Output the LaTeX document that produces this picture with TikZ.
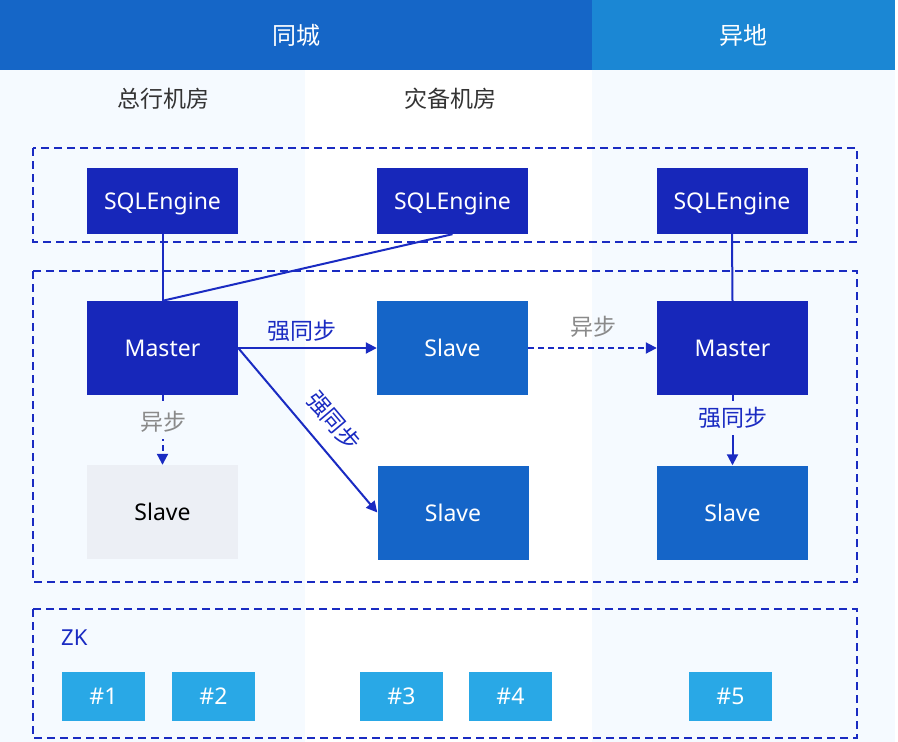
\documentclass[tikz,border=0pt]{standalone}
\usepackage{fontspec}
\setmainfont{Noto Sans}
\newfontfamily\cjk{Noto Sans CJK SC}
\usetikzlibrary{arrows.meta}
\definecolor{hdrA}{HTML}{1566C7}
\definecolor{hdrB}{HTML}{1B87D4}
\definecolor{colbg}{HTML}{F5FAFF}
\definecolor{navy}{HTML}{1727BA}
\definecolor{mblue}{HTML}{1565C8}
\definecolor{lgray}{HTML}{ECEFF5}
\definecolor{zkblue}{HTML}{29A8E6}
\definecolor{dline}{HTML}{1A2BC2}
\definecolor{gtext}{HTML}{8A8A8A}
\definecolor{dtext}{HTML}{333333}
\tikzset{
  box/.style={inner sep=0pt, minimum width=151pt, font=\fontsize{23}{26}\selectfont, text=white},
  engbox/.style={box, fill=navy, minimum height=66pt, text depth=0pt},
  mastbox/.style={box, fill=navy, minimum height=94pt},
  slavebox/.style={box, fill=mblue, minimum height=94pt},
  grayslave/.style={box, fill=lgray, minimum height=94pt, text=black},
  zkbox/.style={inner sep=0pt, minimum width=83pt, minimum height=49pt, fill=zkblue, text=white, font=\fontsize{23}{26}\selectfont},
  group/.style={draw=dline, line width=2pt, dash pattern=on 8pt off 5pt},
  conn/.style={draw=dline, line width=2pt},
  arr/.style={conn, -{Triangle[length=11pt,width=11pt]}},
  darr/.style={arr, dash pattern=on 6pt off 4pt},
  hdr/.style={font=\cjk\fontsize{24}{28}\selectfont, text=white},
  room/.style={font=\cjk\fontsize{23}{27}\selectfont, text=dtext},
  slbl/.style={font=\cjk\fontsize{23}{27}\selectfont, text=dline, inner sep=0pt},
  albl/.style={font=\cjk\fontsize{23}{27}\selectfont, text=gtext, inner sep=0pt},
}
\begin{document}
\begin{tikzpicture}[x=1pt,y=-1pt]
\useasboundingbox (0,0) rectangle (898,742);
% backgrounds
\fill[white] (0,0) rectangle (898,742);
\fill[colbg] (0,70) rectangle (305,742);
\fill[colbg] (592,70) rectangle (895,742);
\fill[hdrA] (0,0) rectangle (592,70);
\fill[hdrB] (592,0) rectangle (895,70);
\node[hdr] (hsame) at (296,35) {同城};
\node[hdr] (hdiff) at (743,35) {异地};
\node[room] (r1) at (163,99) {总行机房};
\node[room] (r2) at (450,99) {灾备机房};
% group frames
\draw[group] (33,148) rectangle (857,242);
\draw[group] (33,271) rectangle (857,582);
\draw[group] (33,609) rectangle (857,738);
% engines
\node[engbox] (e1) at (162.5,201) {SQLEngine};
\node[engbox] (e2) at (452.5,201) {SQLEngine};
\node[engbox] (e3) at (732,201) {SQLEngine};
% masters and slaves
\node[mastbox] (m1) at (162.5,348) {Master};
\node[slavebox] (s2) at (452.5,348) {Slave};
\node[mastbox] (m2) at (732.5,348) {Master};
\node[grayslave] (s1) at (162.5,512) {Slave};
\node[slavebox] (s3) at (453,512.5) {Slave};
\node[slavebox] (s4) at (732.5,512.5) {Slave};
% connectors
\draw[conn] (e1.south) -- (m1.north);
\draw[conn] (e2.south) -- (m1.north);
\draw[conn] (e3.south) -- (m2.north);
\draw[arr] (m1.east) -- (s2.west);
\node[slbl] (l1) at (302,331) {强同步};
\draw[arr] (m1.east) -- (s3.west);
\node[slbl, rotate=-49.7] (l2) at (334,421) {强同步};
\draw[darr] (s2.east) -- (m2.west);
\node[albl] (l3) at (593,327) {异步};
\draw[darr] (m1.south) -- (s1.north);
\node[albl, fill=colbg, minimum width=70pt, minimum height=34pt] (l4) at (163,422) {异步};
\draw[arr] (m2.south) -- (s4.north);
\node[slbl, fill=colbg, minimum width=110pt, minimum height=34pt] (l5) at (733,418) {强同步};
% ZK
\node[anchor=west, inner sep=0pt, text=dline, font=\fontsize{22}{26}\selectfont] (zk) at (61,638) {ZK};
\node[zkbox] (z1) at (103.5,696.5) {\#1};
\node[zkbox] (z2) at (213.5,696.5) {\#2};
\node[zkbox] (z3) at (401.5,696.5) {\#3};
\node[zkbox] (z4) at (510.5,696.5) {\#4};
\node[zkbox] (z5) at (730.5,696.5) {\#5};
\end{tikzpicture}
\end{document}
